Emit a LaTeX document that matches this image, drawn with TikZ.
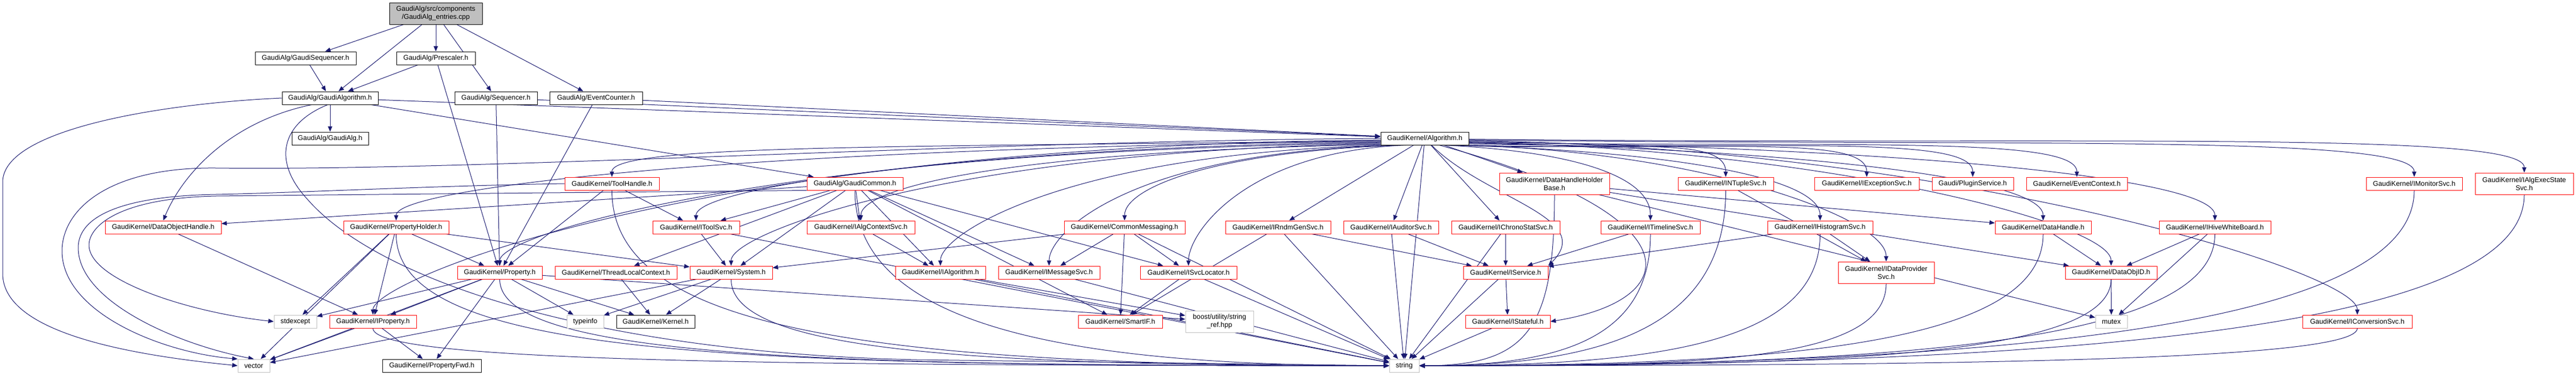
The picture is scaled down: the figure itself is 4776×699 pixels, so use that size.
\documentclass[tikz,border=0pt]{standalone}
\usepackage{fontspec}
\setmainfont{Liberation Sans}
\usetikzlibrary{arrows.meta,backgrounds}
\definecolor{edgecol}{HTML}{191970}
\definecolor{greyf}{HTML}{BFBFBF}
\newcommand\nodefont{\fontsize{12.8pt}{15pt}\selectfont}
\tikzset{
  nd/.style={rectangle, draw, line width=1pt, fill=white, inner sep=0pt, minimum height=24pt, font=\nodefont, text=black},
  blk/.style={nd, draw=black},
  redbox/.style={nd, draw=red},
  greybox/.style={nd, draw=greyf},
  two/.style={minimum height=40pt, align=center},
  dep/.style={draw=edgecol, line width=1pt, -{Triangle[length=10pt,width=8pt]}}
}
\begin{document}
\begin{tikzpicture}[x=1pt,y=-1pt]
\useasboundingbox (0,0) rectangle (4776,699);
% row 0
\node[blk, fill=greyf, two, minimum width=172pt] (n1) at (808,25) {GaudiAlg/src/components\\/GaudiAlg\_entries.cpp};
% row 1
\node[blk, minimum width=187pt] (n2) at (566.5,108) {GaudiAlg/GaudiSequencer.h};
\node[blk, minimum width=146pt] (n3) at (808,108) {GaudiAlg/Prescaler.h};
% row 2
\node[blk, minimum width=178pt] (n4) at (612,182) {GaudiAlg/GaudiAlgorithm.h};
\node[blk, minimum width=153pt] (n5) at (919.5,182) {GaudiAlg/Sequencer.h};
\node[blk, minimum width=172pt] (n6) at (1105,182) {GaudiAlg/EventCounter.h};
% row 3
\node[blk, minimum width=142pt] (n7) at (612,257) {GaudiAlg/GaudiAlg.h};
\node[blk, minimum width=163pt] (n8) at (2641.5,257) {GaudiKernel/Algorithm.h};
% row 4
\node[redbox, minimum width=175pt] (n9) at (1134.5,341) {GaudiKernel/ToolHandle.h};
\node[redbox, minimum width=178pt] (n10) at (1585,341) {GaudiAlg/GaudiCommon.h};
\node[redbox, two, minimum width=204pt] (n11) at (2882,341) {GaudiKernel/DataHandleHolder\\Base.h};
\node[redbox, minimum width=177pt] (n12) at (3199.5,341) {GaudiKernel/INTupleSvc.h};
\node[redbox, minimum width=194pt] (n13) at (3461,341) {GaudiKernel/IExceptionSvc.h};
\node[redbox, minimum width=151pt] (n14) at (3657.5,341) {Gaudi/PluginService.h};
\node[redbox, minimum width=187pt] (n15) at (3850.5,341) {GaudiKernel/EventContext.h};
\node[redbox, minimum width=178pt] (n16) at (4476,341) {GaudiKernel/IMonitorSvc.h};
\node[redbox, two, minimum width=182pt] (n17) at (4680,341) {GaudiKernel/IAlgExecState\\Svc.h};
% row 5
\node[redbox, minimum width=215pt] (n18) at (302.5,422) {GaudiKernel/DataObjectHandle.h};
\node[redbox, minimum width=195pt] (n19) at (734.5,422) {GaudiKernel/PropertyHolder.h};
\node[redbox, minimum width=161pt] (n20) at (1290.5,422) {GaudiKernel/IToolSvc.h};
\node[redbox, minimum width=200pt] (n21) at (1596,422) {GaudiKernel/IAlgContextSvc.h};
\node[redbox, minimum width=224pt] (n22) at (2085,422) {GaudiKernel/CommonMessaging.h};
\node[redbox, minimum width=195pt] (n23) at (2369.5,422) {GaudiKernel/IRndmGenSvc.h};
\node[redbox, minimum width=176pt] (n24) at (2579,422) {GaudiKernel/IAuditorSvc.h};
\node[redbox, minimum width=201pt] (n25) at (2791.5,422) {GaudiKernel/IChronoStatSvc.h};
\node[redbox, minimum width=184pt] (n26) at (3060,422) {GaudiKernel/ITimelineSvc.h};
\node[redbox, minimum width=195pt] (n27) at (3374.5,422) {GaudiKernel/IHistogramSvc.h};
\node[redbox, minimum width=178pt] (n28) at (3788,422) {GaudiKernel/DataHandle.h};
\node[redbox, minimum width=207pt] (n29) at (4106.5,422) {GaudiKernel/IHiveWhiteBoard.h};
% row 6
\node[redbox, minimum width=157pt] (n30) at (926.5,506) {GaudiKernel/Property.h};
\node[redbox, minimum width=226pt] (n31) at (1142,506) {GaudiKernel/ThreadLocalContext.h};
\node[redbox, minimum width=153pt] (n32) at (1355.5,506) {GaudiKernel/System.h};
\node[redbox, minimum width=167pt] (n33) at (1743.5,506) {GaudiKernel/IAlgorithm.h};
\node[redbox, minimum width=188pt] (n34) at (1945,506) {GaudiKernel/IMessageSvc.h};
\node[redbox, minimum width=179pt] (n35) at (2203.5,506) {GaudiKernel/ISvcLocator.h};
\node[redbox, minimum width=157pt] (n36) at (2791.5,506) {GaudiKernel/IService.h};
\node[redbox, two, minimum width=178pt] (n37) at (3497,506) {GaudiKernel/IDataProvider\\Svc.h};
\node[redbox, minimum width=170pt] (n38) at (3914,506) {GaudiKernel/DataObjID.h};
% row 7
\node[greybox, minimum width=79pt] (n39) at (547.5,597) {stdexcept};
\node[redbox, minimum width=161pt] (n40) at (691.5,597) {GaudiKernel/IProperty.h};
\node[greybox, minimum width=68pt] (n41) at (1085,597) {typeinfo};
\node[blk, minimum width=145pt] (n42) at (1215.5,597) {GaudiKernel/Kernel.h};
\node[redbox, minimum width=156pt] (n43) at (2077,597) {GaudiKernel/SmartIF.h};
\node[greybox, two, minimum width=126pt] (n44) at (2261,597) {boost/utility/string\\\_ref.hpp};
\node[redbox, minimum width=157pt] (n45) at (2795.5,597) {GaudiKernel/IStateful.h};
\node[greybox, minimum width=59pt] (n46) at (3914.5,597) {mutex};
\node[redbox, minimum width=203pt] (n47) at (4370.5,597) {GaudiKernel/IConversionSvc.h};
% row 8
\node[greybox, minimum width=59pt] (n48) at (470.5,679) {vector};
\node[blk, minimum width=183pt] (n49) at (800.5,679) {GaudiKernel/PropertyFwd.h};
\node[greybox, minimum width=55pt] (n50) at (2603.5,679) {string};

\begin{pgfonlayer}{background}
\fill[white] (0,0) rectangle (4776,699);
% straight connectors
\foreach \a/\b in {n1/n2, n1/n3, n1/n4, n1/n5, n1/n6,
 n2/n4, n3/n4, n3/n30, n5/n8, n5/n30, n6/n8, n6/n30,
 n4/n7, n4/n8, n4/n10,
 n8/n11, n8/n23, n8/n24, n8/n25, n8/n50,
 n9/n20, n9/n30,
 n10/n18, n10/n20, n10/n21, n10/n31, n10/n32, n10/n33, n10/n34, n10/n35, n10/n43,
 n11/n28, n11/n38, n11/n46,
 n12/n37, n18/n40,
 n19/n30, n19/n32, n19/n39, n19/n40, n19/n48,
 n20/n32, n20/n50, n21/n33,
 n22/n32, n22/n34, n22/n35, n22/n43, n22/n50,
 n23/n36, n23/n43, n23/n50, n24/n36, n24/n50, n25/n36, n25/n50, n26/n36,
 n27/n36, n27/n37, n28/n38, n29/n38, n29/n46,
 n30/n39, n30/n40, n30/n41, n30/n42, n30/n44, n30/n48, n30/n49,
 n31/n42, n32/n41, n32/n42, n32/n48, n33/n44, n33/n50, n34/n50,
 n35/n43, n35/n50, n36/n45, n36/n50, n38/n46,
 n40/n48, n40/n49, n45/n50}
  \draw[dep] (\a) -- (\b);
% Algorithm.h fanning out to the left
\foreach \b/\o/\d in {n9/183/900, n19/184/1200, n20/186/800, n21/188/700, n22/196/350,
 n30/185/1100, n32/187/800, n33/192/600, n34/194/500, n35/200/300, n40/182/1300}
  \draw[dep] (n8.\o) .. controls +(-\d,12) and +(0,-60) .. (\b.north);
% Algorithm.h fanning out to the right
\foreach \b/\o/\d in {n12/-15/300, n13/-9/450, n14/-7/550, n15/-5/650, n16/-2/1000, n17/-1/1100,
 n26/-20/250, n27/-12/400, n28/-6/600, n29/-4/800, n37/-10/450, n38/-5/650, n47/-3/900}
  \draw[dep] (n8.\o) .. controls +(\d,12) and +(0,-80) .. (\b.north);
\draw[dep] (n8.-45) .. controls +(100,100) and +(90,-90) .. (n36.north east);
\draw[dep] (n8.-25) .. controls +(480,130) and +(250,-40) .. (n45.east);
% into string from the right
\foreach \a/\od/\id in {n17/250/1200, n16/250/1100, n47/60/1000, n29/200/900, n38/150/700,
 n37/150/500, n28/200/700, n27/200/450, n26/200/250, n12/250/350, n11/250/200}
  \draw[dep] (\a.south) .. controls +(0,\od) and +(\id,0) .. (n50.east);
% into string from the left
\foreach \a/\od/\id in {n19/230/1200, n30/150/1000, n32/130/800, n40/60/1200,
 n9/250/1000, n10/250/600}
  \draw[dep] (\a.south) .. controls +(0,\od) and +(-\id,0) .. (n50.west);
% long loops on the left
\draw[dep] (n4.west) .. controls (300,192) and (5,240) .. (5,338) -- (5,508) .. controls (5,620) and (250,660) .. (n48.west);
\draw[dep] (n8.west) .. controls (1800,262) and (900,318) .. (400,312) .. controls (200,310) and (115,390) .. (115,466) .. controls (115,580) and (300,655) .. (n48.north west);
\draw[dep] (n9.west) .. controls (800,345) and (550,358) .. (400,361) .. controls (230,364) and (145,400) .. (145,460) .. controls (145,560) and (330,640) .. (n48.north);
\draw[dep] (n10.south west) .. controls (1000,358) and (600,362) .. (400,364) .. controls (220,368) and (165,420) .. (165,455) .. controls (165,520) and (350,580) .. (n39.west);
\draw[dep] (n4.200) .. controls (430,225) and (340,320) .. (n18.north);
\draw[dep] (n4.250) .. controls (520,230) and (505,300) .. (570,370) .. controls (700,520) and (1100,655) .. (1700,668) -- (n50.west);
\end{pgfonlayer}
\end{tikzpicture}
\end{document}
